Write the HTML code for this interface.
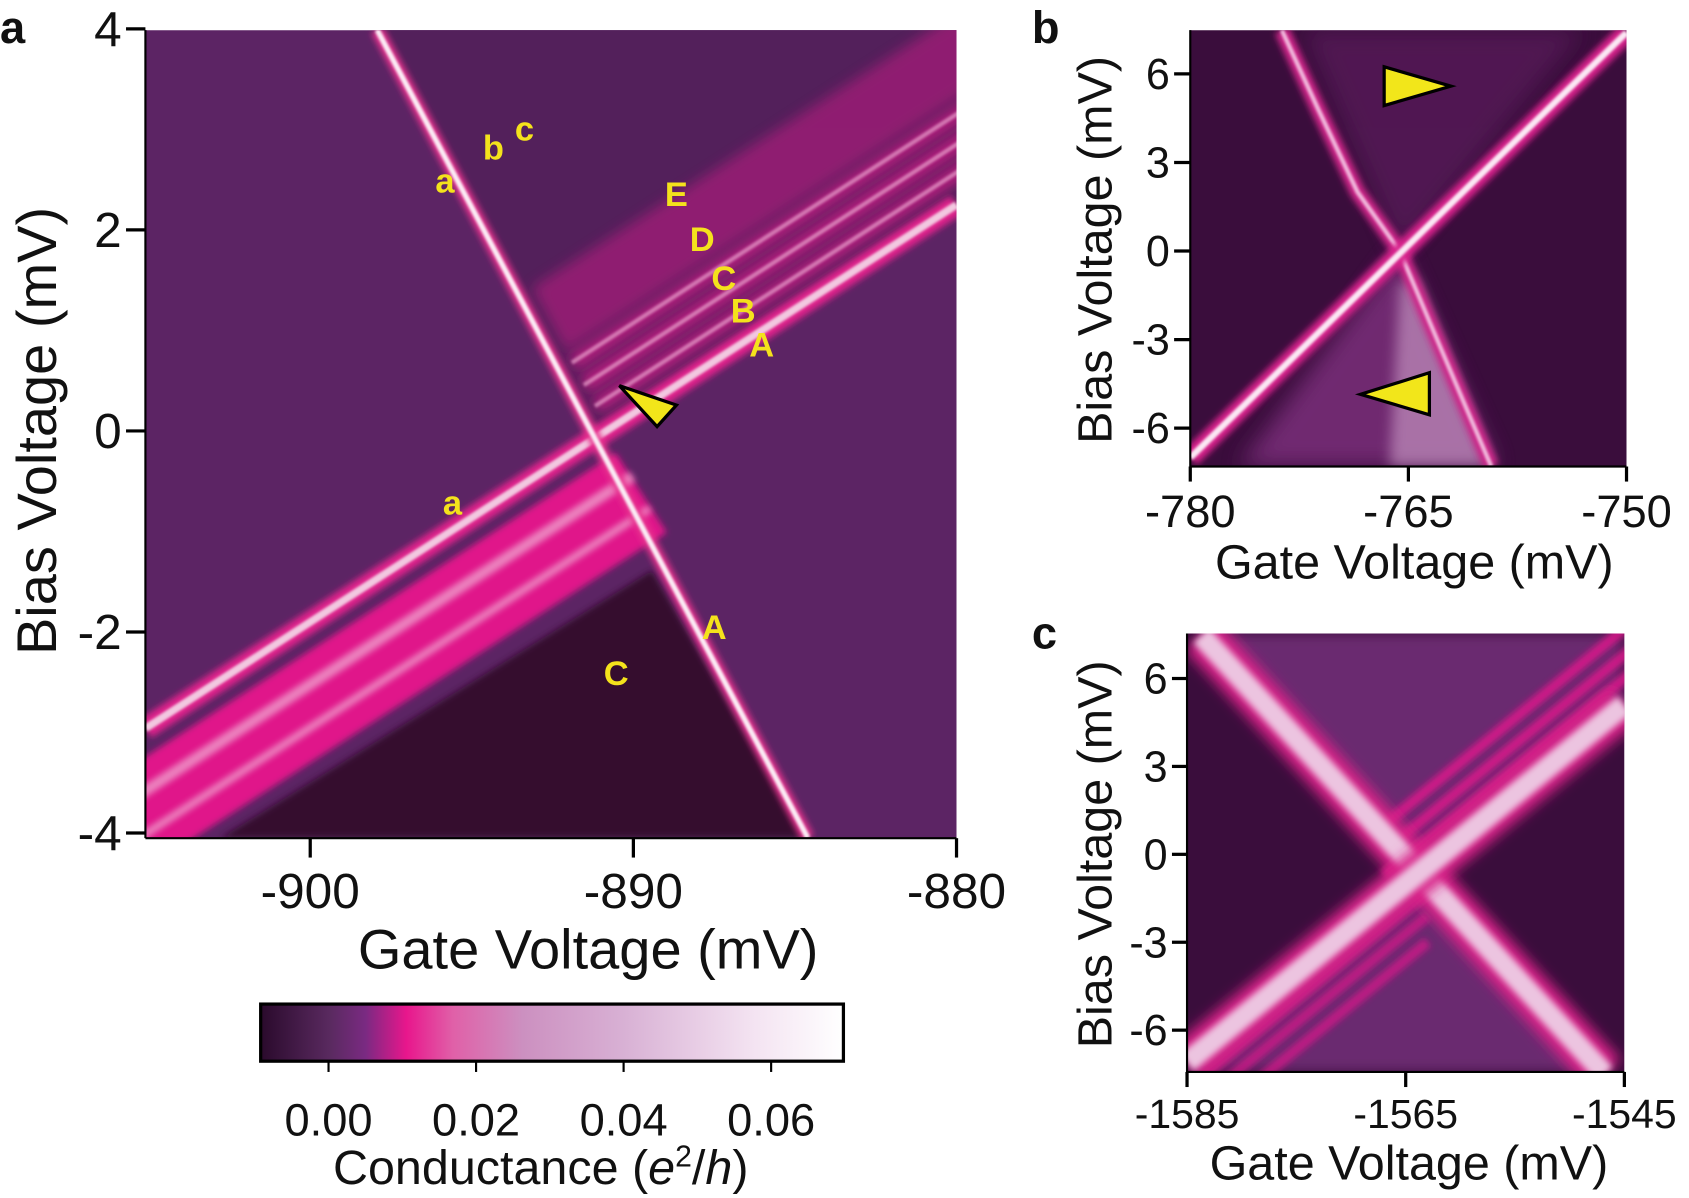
<!DOCTYPE html>
<html><head><meta charset="utf-8">
<style>
html,body{margin:0;padding:0;background:#fff;}
svg{display:block;font-family:"Liberation Sans",Arial,sans-serif;}
</style></head>
<body>
<svg id="fig" width="1689" height="1198" viewBox="0 0 1568 1112" preserveAspectRatio="none" xmlns="http://www.w3.org/2000/svg">
<defs>
<filter id="b1" x="-20%" y="-20%" width="140%" height="140%"><feGaussianBlur stdDeviation="1.2"/></filter>
<filter id="b3" x="-20%" y="-20%" width="140%" height="140%"><feGaussianBlur stdDeviation="3"/></filter>
<filter id="b6" x="-20%" y="-20%" width="140%" height="140%"><feGaussianBlur stdDeviation="6"/></filter>
<filter id="b10" x="-30%" y="-30%" width="160%" height="160%"><feGaussianBlur stdDeviation="10"/></filter>
<clipPath id="clipA"><rect x="135" y="28" width="753" height="750"/></clipPath>
<clipPath id="clipB"><rect x="1105" y="28" width="405" height="405"/></clipPath>
<clipPath id="clipC"><rect x="1102" y="588" width="406" height="407"/></clipPath>
<linearGradient id="cbar" x1="0" x2="1" y1="0" y2="0">
<stop offset="0" stop-color="#2a0a2c"/>
<stop offset="0.12" stop-color="#5a2a60"/>
<stop offset="0.18" stop-color="#7a2a82"/>
<stop offset="0.25" stop-color="#e8168c"/>
<stop offset="0.33" stop-color="#e060a8"/>
<stop offset="0.45" stop-color="#cc90c0"/>
<stop offset="0.62" stop-color="#d8b0d4"/>
<stop offset="0.85" stop-color="#f4e4f2"/>
<stop offset="1" stop-color="#ffffff"/>
</linearGradient>
</defs>
<g id="layerA"></g>
<g id="layerB"></g>
<g id="layerC"></g>
<g id="layerT"></g>
</svg>
<script>
// ---- Panel a data ----
const aXTicks = [-900, -890, -880];
const aYTicks = [4, 2, 0, -2, -4];
const aYTickLabels = ["4", "2", "0", "-2", "-4"];
const lineAGate = [-905.1, -880];
const lineABias = [-2.96, 2.25];
const steepGate = [-897.93, -884.6];
const steepBias = [3.99, -4.05];
const upperBandLo = [0.22, 0.5, 0.8, 1.05];
const upperBandHi = [0.4, 0.7, 0.98, 1.9];
const upperStripes = [0.32, 0.6, 0.9];
const lowerBandLo = [-1.4];
const lowerBandHi = [-0.28];
const lowerStripes = [-0.62, -1.05];
const darkTriGate = [-889.43, -884.6, -902.77];
const darkTriBias = [-1.39, -4.05, -4.05];
const letterLabels = ["a","b","c","E","D","C","B","A","a","A","C"];
const letterGate = [-895.83,-894.33,-893.37,-888.67,-887.87,-887.2,-886.6,-886.03,-895.6,-887.5,-890.53];
const letterBias = [2.37,2.70,2.89,2.24,1.79,1.40,1.08,0.74,-0.83,-2.07,-2.53];
// ---- Panel b data ----
const bXTicks = [-780, -765, -750];
const bYTicks = [6, 3, 0, -3, -6];
const bShallowGate = [-780, -750];
const bShallowBias = [-7.0, 7.4];
const bCurveGate = [-773.7, -771.2, -768.5, -765.6, -763.5, -761.3, -759.3];
const bCurveBias = [7.48, 4.8, 2.0, 0.0, -2.45, -5.0, -7.3];
// ---- Panel c data ----
const cXTicks = [-1585, -1565, -1545];
const cYTicks = [6, 3, 0, -3, -6];
const cLine1Gate = [-1583.7, -1546.8];
const cLine1Bias = [7.47, -7.5];
const cLine2Gate = [-1585, -1545];
const cLine2Bias = [-7.1, 5.1];
const cStripeOffsets = [0.9, 1.7, 2.6];
// ---- Colorbar data ----
const cbTicks = [0.00, 0.02, 0.04, 0.06];
const cbMin = -0.0092, cbMax = 0.0698;

const NS = "http://www.w3.org/2000/svg";
function mk(tag, attrs, parent){
  const e = document.createElementNS(NS, tag);
  for (const k in attrs) e.setAttribute(k, attrs[k]);
  parent.appendChild(e);
  return e;
}
const LA = document.getElementById('layerA');
const LB = document.getElementById('layerB');
const LC = document.getElementById('layerC');
const LT = document.getElementById('layerT');

const xa = g => 288 + (g + 900) * 30;
const ya = b => 400 - b * 93.3;
const xb = g => 1105 + (g + 780) * 13.5;
const yb = b => 233 - b * 27.4;
const xc = g => 1102 + (g + 1585) * 10.15;
const yc = b => 793 - b * 27.2;
const xcb = v => 242 + (v - cbMin) / (cbMax - cbMin) * 541;

function lin(gs, bs){ const s = (bs[1]-bs[0])/(gs[1]-gs[0]); return g => bs[0] + s*(g-gs[0]); }
const fA = lin(lineAGate, lineABias);
const fS = lin(steepGate, steepBias);
function meetSteep(off){
  let lo=-910, hi=-875;
  for(let i=0;i<60;i++){ const m=(lo+hi)/2; if(fS(m) - fA(m) - off > 0) lo=m; else hi=m; }
  return (lo+hi)/2;
}

// ===== Panel a =====
const gA = mk('g', {'clip-path':'url(#clipA)'}, LA);
let e;
e = mk('rect', {x:135,y:28,width:753,height:750,fill:'#5c2464'}, gA);


const pts = (arrG, arrB, fx, fy) => arrG.map((g,i)=>fx(g)+','+fy(arrB[i])).join(' ');
e = mk('polygon', {points: pts([-897.93,-880,-880,-891.3],[4,4,2.25,-0.05],xa,ya), fill:'#53205b'}, gA);


for (let i=0;i<upperBandLo.length;i++){
  const gl = meetSteep(upperBandLo[i]) + 0.4, gh = meetSteep(upperBandHi[i]) + 0.4;
  const P = [[gl,fA(gl)+upperBandLo[i]],[-878,fA(-878)+upperBandLo[i]],[-878,fA(-878)+upperBandHi[i]],[gh,fA(gh)+upperBandHi[i]]];
  e = mk('polygon', {points:P.map(p=>xa(p[0])+','+ya(p[1])).join(' '), fill: i===3?'#b81c80':'#d81a8a', opacity: i===3?0.6:0.8, filter:'url(#b6)'}, gA);
  
  
}
for (let i=0;i<upperStripes.length;i++){
  const o = upperStripes[i];
  const g0 = meetSteep(o) + 0.4;
  e = mk('line', {x1:xa(g0),y1:ya(fA(g0)+o),x2:xa(-878),y2:ya(fA(-878)+o),stroke:'#e8a0cc','stroke-width':4,opacity:0.7,filter:'url(#b1)'}, gA);
  
  
}
for (let i=0;i<lowerBandLo.length;i++){
  const g1l = meetSteep(lowerBandLo[i]) + 0.5, g1h = meetSteep(lowerBandHi[i]) + 0.3;
  const P = [[-906,fA(-906)+lowerBandLo[i]],[g1l,fA(g1l)+lowerBandLo[i]],[g1h,fA(g1h)+lowerBandHi[i]],[-906,fA(-906)+lowerBandHi[i]]];
  e = mk('polygon', {points:P.map(p=>xa(p[0])+','+ya(p[1])).join(' '), fill:'#e0188a', filter:'url(#b3)'}, gA);
  
  
}
for (let i=0;i<lowerStripes.length;i++){
  const o = lowerStripes[i];
  const g1 = meetSteep(o) + 0.4;
  e = mk('line', {x1:xa(-906),y1:ya(fA(-906)+o),x2:xa(g1),y2:ya(fA(g1)+o),stroke:'#f0a8d0','stroke-width':i===0?10:7,opacity:0.75,filter:'url(#b3)'}, gA);
  
  
}
e = mk('polygon', {points: pts(darkTriGate, darkTriBias, xa, ya), fill:'#34102f', filter:'url(#b3)'}, gA);


e = mk('line', {x1:xa(lineAGate[0]),y1:ya(lineABias[0]),x2:xa(lineAGate[1]),y2:ya(lineABias[1]),stroke:'#e0208c','stroke-width':20,filter:'url(#b3)'}, gA);


e = mk('line', {x1:xa(lineAGate[0]),y1:ya(lineABias[0]),x2:xa(lineAGate[1]),y2:ya(lineABias[1]),stroke:'#f2c8e0','stroke-width':7,filter:'url(#b1)'}, gA);


e = mk('line', {x1:xa(steepGate[0]),y1:ya(steepBias[0]),x2:xa(steepGate[1]),y2:ya(steepBias[1]),stroke:'#e8308e','stroke-width':12,filter:'url(#b3)'}, gA);


e = mk('line', {x1:xa(steepGate[0]),y1:ya(steepBias[0]),x2:xa(steepGate[1]),y2:ya(steepBias[1]),stroke:'#fbeef6','stroke-width':5,filter:'url(#b1)'}, gA);


e = mk('polygon', {points:'575,358 628,376 610,396', fill:'#f2e61a', stroke:'#000','stroke-width':3}, gA);


for (let i=0;i<letterLabels.length;i++){
  e = mk('text', {x:xa(letterGate[i]),y:ya(letterBias[i]),'font-size':32,'font-weight':'bold',fill:'#f4e21c','text-anchor':'middle'}, gA);
  e.textContent = letterLabels[i];
  
  
}
e = mk('line',{x1:135,y1:28,x2:135,y2:778,stroke:'#000','stroke-width':2},LA);


e = mk('line',{x1:135,y1:778,x2:888,y2:778,stroke:'#000','stroke-width':2},LA);


for (let i=0;i<aYTicks.length;i++){
  e = mk('line',{x1:117,y1:ya(aYTicks[i]),x2:135,y2:ya(aYTicks[i]),stroke:'#000','stroke-width':3},LA);
  
  
  e = mk('text',{x:113,y:ya(aYTicks[i])+16,'font-size':46,'text-anchor':'end',fill:'#111'},LA);
  e.textContent = aYTickLabels[i];
  
  
}
for (let i=0;i<aXTicks.length;i++){
  e = mk('line',{x1:xa(aXTicks[i]),y1:778,x2:xa(aXTicks[i]),y2:796,stroke:'#000','stroke-width':3},LA);
  
  
  e = mk('text',{x:xa(aXTicks[i]),y:843,'font-size':46,'text-anchor':'middle',fill:'#111'},LA);
  e.textContent = String(aXTicks[i]);
  
  
}
e = mk('text',{x:546,y:899,'font-size':52,'text-anchor':'middle',fill:'#111'},LA);
e.textContent='Gate Voltage (mV)';


e = mk('text',{x:0,y:0,'font-size':52,'text-anchor':'middle',fill:'#111',transform:'translate(52,400) rotate(-90)'},LA);
e.textContent='Bias Voltage (mV)';



// ===== Colorbar =====
e = mk('rect',{x:242,y:932,width:541,height:53,fill:'url(#cbar)',stroke:'#000','stroke-width':3},LT);


for (let i=0;i<cbTicks.length;i++){
  e = mk('line',{x1:xcb(cbTicks[i]),y1:985,x2:xcb(cbTicks[i]),y2:995,stroke:'#000','stroke-width':2},LT);
  
  
  e = mk('text',{x:xcb(cbTicks[i]),y:1054,'font-size':42,'text-anchor':'middle',fill:'#111'},LT);
  e.textContent = cbTicks[i].toFixed(2);
  
  
}
e = mk('text',{x:502,y:1099,'font-size':45,'text-anchor':'middle',fill:'#111'},LT);
e.innerHTML = 'Conductance (<tspan font-style="italic">e</tspan><tspan font-size="28" dy="-16">2</tspan><tspan dy="16">/</tspan><tspan font-style="italic">h</tspan>)';



// ===== Panel b =====
const gB = mk('g',{'clip-path':'url(#clipB)'},LB);
e = mk('rect',{x:1105,y:28,width:405,height:405,fill:'#3a0d3c'},gB);


const cx0 = xb(bCurveGate[3]), cy0 = yb(bCurveBias[3]);
e = mk('polygon',{points:`${cx0},${cy0} 1150,433 ${xb(bCurveGate[6])+5},433`,fill:'#7a2e7a',opacity:0.85,filter:'url(#b10)'},gB);


e = mk('polygon',{points:`${cx0},${cy0+30} 1290,433 ${xb(bCurveGate[6])},433 ${cx0+15},${cy0+25}`,fill:'#c898c4',opacity:0.65,filter:'url(#b6)'},gB);


e = mk('polygon',{points:`${cx0},${cy0} 1210,28 1470,28`,fill:'#5a1c5c',opacity:0.7,filter:'url(#b10)'},gB);


const curvePts = bCurveGate.map((g,i)=>xb(g)+','+yb(bCurveBias[i])).join(' ');
e = mk('polyline',{points:curvePts,fill:'none',stroke:'#d0288a','stroke-width':14,filter:'url(#b3)'},gB);


e = mk('polyline',{points:curvePts,fill:'none',stroke:'#f0b8dc','stroke-width':4,filter:'url(#b1)'},gB);


e = mk('line',{x1:xb(bShallowGate[0]),y1:yb(bShallowBias[0]),x2:xb(bShallowGate[1]),y2:yb(bShallowBias[1]),stroke:'#d8208c','stroke-width':18,filter:'url(#b3)'},gB);


e = mk('line',{x1:xb(bShallowGate[0]),y1:yb(bShallowBias[0]),x2:xb(bShallowGate[1]),y2:yb(bShallowBias[1]),stroke:'#fbe8f4','stroke-width':6,filter:'url(#b1)'},gB);


e = mk('polygon',{points:'1285,62 1285,98 1347,80',fill:'#f2e61a',stroke:'#000','stroke-width':3},LB);


e = mk('polygon',{points:'1327,346 1327,385 1263,366',fill:'#f2e61a',stroke:'#000','stroke-width':3},LB);


e = mk('line',{x1:1105,y1:28,x2:1105,y2:433,stroke:'#000','stroke-width':2},LB);


e = mk('line',{x1:1105,y1:433,x2:1510,y2:433,stroke:'#000','stroke-width':2},LB);


for (let i=0;i<bYTicks.length;i++){
  e = mk('line',{x1:1090,y1:yb(bYTicks[i]),x2:1105,y2:yb(bYTicks[i]),stroke:'#000','stroke-width':3},LB);
  
  
  e = mk('text',{x:1086,y:yb(bYTicks[i])+14,'font-size':40,'text-anchor':'end',fill:'#111'},LB);
  e.textContent = String(bYTicks[i]);
  
  
}
for (let i=0;i<bXTicks.length;i++){
  e = mk('line',{x1:xb(bXTicks[i]),y1:433,x2:xb(bXTicks[i]),y2:447,stroke:'#000','stroke-width':3},LB);
  
  
  e = mk('text',{x:xb(bXTicks[i]),y:489,'font-size':42,'text-anchor':'middle',fill:'#111'},LB);
  e.textContent = String(bXTicks[i]);
  
  
}
e = mk('text',{x:1313,y:537,'font-size':45,'text-anchor':'middle',fill:'#111'},LB);
e.textContent='Gate Voltage (mV)';


e = mk('text',{x:0,y:0,'font-size':45,'text-anchor':'middle',fill:'#111',transform:'translate(1032,232) rotate(-90)'},LB);
e.textContent='Bias Voltage (mV)';



// ===== Panel c =====
const gC = mk('g',{'clip-path':'url(#clipC)'},LC);
e = mk('rect',{x:1102,y:588,width:406,height:407,fill:'#3a0d3c'},gC);


const f1 = lin(cLine1Gate,cLine1Bias), f2 = lin(cLine2Gate,cLine2Bias);
e = mk('polygon',{points:`1315,793 ${xc(cLine1Gate[0])},588 1508,588 1508,${yc(cLine2Bias[1])}`,fill:'#6a2a70',filter:'url(#b6)'},gC);


e = mk('polygon',{points:`1315,793 1102,${yc(cLine2Bias[0])} 1102,995 1490,995`,fill:'#6a2a70',filter:'url(#b6)'},gC);


for (let i=0;i<cStripeOffsets.length;i++){
  const o = cStripeOffsets[i];
  e = mk('line',{x1:xc(-1567),y1:yc(f2(-1567)+o),x2:xc(-1543),y2:yc(f2(-1543)+o),stroke:'#e0188c','stroke-width':10,opacity:0.85,filter:'url(#b3)'},gC);
  
  
  e = mk('line',{x1:xc(-1587),y1:yc(f2(-1587)-o),x2:xc(-1563),y2:yc(f2(-1563)-o),stroke:'#d8188a','stroke-width':10,opacity:0.75,filter:'url(#b3)'},gC);
  
  
}
[[cLine1Gate,cLine1Bias,'line-1-c'],[cLine2Gate,cLine2Bias,'line-2-c']].forEach(L=>{
  e = mk('line',{x1:xc(L[0][0]),y1:yc(L[1][0]),x2:xc(L[0][1]),y2:yc(L[1][1]),stroke:'#d82088','stroke-width':40,filter:'url(#b6)'},gC);
  
  
  e = mk('line',{x1:xc(L[0][0]),y1:yc(L[1][0]),x2:xc(L[0][1]),y2:yc(L[1][1]),stroke:'#ecc4e0','stroke-width':20,filter:'url(#b3)'},gC);
  
  
});
e = mk('line',{x1:1102,y1:588,x2:1102,y2:995,stroke:'#000','stroke-width':2},LC);


e = mk('line',{x1:1102,y1:995,x2:1508,y2:995,stroke:'#000','stroke-width':2},LC);


for (let i=0;i<cYTicks.length;i++){
  e = mk('line',{x1:1088,y1:yc(cYTicks[i]),x2:1102,y2:yc(cYTicks[i]),stroke:'#000','stroke-width':3},LC);
  
  
  e = mk('text',{x:1084,y:yc(cYTicks[i])+14,'font-size':40,'text-anchor':'end',fill:'#111'},LC);
  e.textContent = String(cYTicks[i]);
  
  
}
for (let i=0;i<cXTicks.length;i++){
  e = mk('line',{x1:xc(cXTicks[i]),y1:995,x2:xc(cXTicks[i]),y2:1009,stroke:'#000','stroke-width':3},LC);
  
  
  e = mk('text',{x:xc(cXTicks[i]),y:1047,'font-size':38,'text-anchor':'middle',fill:'#111'},LC);
  e.textContent = String(cXTicks[i]);
  
  
}
e = mk('text',{x:1308,y:1095,'font-size':45,'text-anchor':'middle',fill:'#111'},LC);
e.textContent='Gate Voltage (mV)';


e = mk('text',{x:0,y:0,'font-size':45,'text-anchor':'middle',fill:'#111',transform:'translate(1032,793) rotate(-90)'},LC);
e.textContent='Bias Voltage (mV)';



[['a',0,40],['b',958,40],['c',958,602]].forEach(p=>{
  e = mk('text',{x:p[1],y:p[2],'font-size':42,'font-weight':'bold',fill:'#111'},LT);
  e.textContent = p[0];
  
  
});
</script>
</body></html>
